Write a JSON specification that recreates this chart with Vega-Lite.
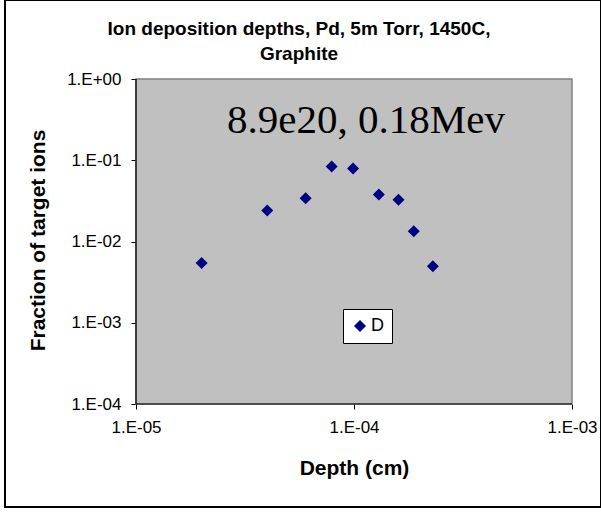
{
  "$schema": "https://vega.github.io/schema/vega-lite/v6.json",
  "width": 596,
  "height": 507,
  "autosize": {"type": "none"},
  "padding": {"left": 5, "top": 0, "right": 0, "bottom": 6},
  "background": "white",
  "title": {
    "text": ["Ion deposition depths, Pd, 5m Torr, 1450C,", "Graphite"],
    "font": "Liberation Sans",
    "fontSize": 19,
    "fontWeight": "bold",
    "lineHeight": 25,
    "offset": -64,
    "dx": -4,
    "anchor": "middle",
    "color": "black"
  },
  "config": {
    "view": {"fill": "white", "stroke": "black", "strokeWidth": 2},
    "font": "Liberation Sans"
  },
  "layer": [
    {
      "data": {"values": [{"x": 1e-5, "x2": 1e-3, "y": 1e-4, "y2": 1}]},
      "mark": {"type": "rect", "fill": "#C0C0C0", "stroke": "#808080", "strokeWidth": 1.5},
      "encoding": {
        "x": {
          "field": "x",
          "type": "quantitative",
          "title": "Depth (cm)",
          "scale": {"type": "log", "domain": [2.5066e-6, 1.3583e-3], "nice": false},
          "axis": {
            "offset": -103,
            "domain": false,
            "values": [1e-5, 1e-4, 1e-3],
            "labelExpr": "'1.E' + (datum.value >= 1 ? '+00' : '-0' + round(-log(datum.value)/LN10))",
            "title": "Depth (cm)",
            "titleX": 349,
            "titleFont": "Liberation Sans",
            "titleFontSize": 21,
            "titleFontWeight": "bold",
            "titleColor": "black",
            "titlePadding": 22,
            "labelFont": "Liberation Sans",
            "labelFontSize": 17,
            "labelColor": "black",
            "labelPadding": 10,
            "tickSize": 5,
            "tickColor": "black",
            "grid": false,
            "labelFlush": false,
            "labelOverlap": false,
            "labelBound": false
          }
        },
        "x2": {"field": "x2"},
        "y": {
          "field": "y",
          "type": "quantitative",
          "title": "Fraction of target ions",
          "scale": {"type": "log", "domain": [5.3995e-6, 9.383], "nice": false},
          "axis": {
            "offset": -131,
            "domain": false,
            "values": [1e-4, 1e-3, 1e-2, 1e-1, 1],
            "labelExpr": "'1.E' + (datum.value >= 1 ? '+00' : '-0' + round(-log(datum.value)/LN10))",
            "title": "Fraction of target ions",
            "titleY": 240,
            "titleFont": "Liberation Sans",
            "titleFontSize": 21,
            "titleFontWeight": "bold",
            "titleColor": "black",
            "titlePadding": 18,
            "labelFont": "Liberation Sans",
            "labelFontSize": 17,
            "labelColor": "black",
            "labelPadding": 10,
            "tickSize": 5,
            "tickColor": "black",
            "grid": false,
            "labelFlush": false,
            "labelOverlap": false,
            "labelBound": false
          }
        },
        "y2": {"field": "y2"}
      }
    },
    {
      "data": {"values": [
        {"x": 1e-5, "x2": 1e-3, "y": 1e-4, "y2": 1e-4},
        {"x": 1e-5, "x2": 1e-5, "y": 1e-4, "y2": 1}
      ]},
      "mark": {"type": "rule", "color": "black", "strokeWidth": 1.2},
      "encoding": {
        "x": {"field": "x", "type": "quantitative", "title": "Depth (cm)"},
        "x2": {"field": "x2"},
        "y": {"field": "y", "type": "quantitative", "title": "Fraction of target ions"},
        "y2": {"field": "y2"}
      }
    },
    {
      "data": {
        "values": [
          {"x": 2.0e-5, "y": 5.45e-3, "series": "D"},
          {"x": 4.0e-5, "y": 2.4e-2, "series": "D"},
          {"x": 6.0e-5, "y": 3.4e-2, "series": "D"},
          {"x": 7.9e-5, "y": 8.4e-2, "series": "D"},
          {"x": 9.9e-5, "y": 7.9e-2, "series": "D"},
          {"x": 1.3e-4, "y": 3.8e-2, "series": "D"},
          {"x": 1.6e-4, "y": 3.27e-2, "series": "D"},
          {"x": 1.88e-4, "y": 1.34e-2, "series": "D"},
          {"x": 2.3e-4, "y": 4.95e-3, "series": "D"}
        ]
      },
      "mark": {"type": "point", "shape": "diamond", "filled": true, "size": 144, "opacity": 1},
      "encoding": {
        "x": {"field": "x", "type": "quantitative", "title": "Depth (cm)"},
        "y": {"field": "y", "type": "quantitative", "title": "Fraction of target ions"},
        "color": {
          "field": "series",
          "type": "nominal",
          "scale": {"range": ["#000080"]},
          "legend": {
            "orient": "none",
            "legendX": 338,
            "legendY": 309,
            "title": null,
            "strokeColor": "black",
            "fillColor": "white",
            "padding": 8,
            "symbolType": "diamond",
            "symbolSize": 144,
            "symbolFillColor": "#000080",
            "symbolStrokeWidth": 0,
            "labelFont": "Liberation Sans",
            "labelFontSize": 18,
            "labelColor": "black",
            "labelOffset": 2,
            "cornerRadius": 0
          }
        }
      }
    },
    {
      "data": {"values": [{"x": 1.135e-4, "y": 0.2155, "label": "8.9e20, 0.18Mev"}]},
      "mark": {"type": "text", "font": "Liberation Serif", "fontSize": 41, "align": "center", "baseline": "alphabetic", "color": "black"},
      "encoding": {
        "x": {"field": "x", "type": "quantitative", "title": "Depth (cm)"},
        "y": {"field": "y", "type": "quantitative", "title": "Fraction of target ions"},
        "text": {"field": "label"}
      }
    }
  ]
}
